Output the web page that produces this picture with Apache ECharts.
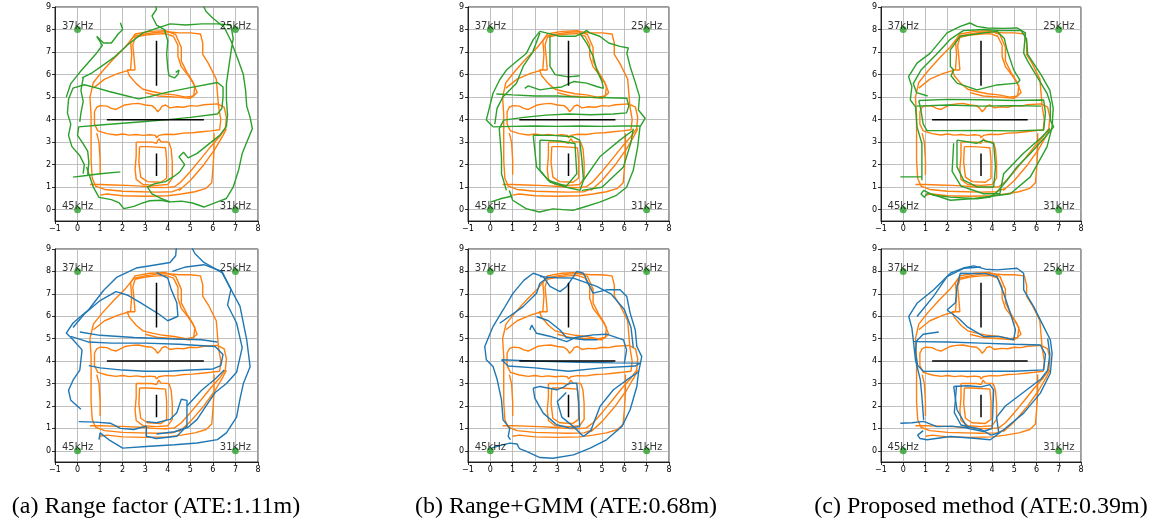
<!DOCTYPE html>
<html><head><meta charset="utf-8">
<script src="https://cdn.jsdelivr.net/npm/echarts@6/dist/echarts.min.js"></script>
<style>html,body{margin:0;padding:0;background:#fff}#c{width:1156px;height:522px}</style>
</head><body><div id="c"></div>
<script>
const xTicks = [-1,0,1,2,3,4,5,6,7,8];
const yTicks = [0,1,2,3,4,5,6,7,8,9];
const anchorPoints = [[0,8,'37kHz'],[7,8,'25kHz'],[0,0,'45kHz'],[7,0,'31kHz']];
const walls = [[[3.5,5.5],[3.5,7.5]], [[1.3,4],[5.6,4]], [[3.5,1.5],[3.5,2.5]]];
const captions = ['(a) Range factor (ATE:1.11m)','(b) Range+GMM (ATE:0.68m)','(c) Proposed method (ATE:0.39m)'];

// ground truth (orange), same in every panel
const groundTruth = [
 [[0.55,1.12],[1.0,1.12],[1.6,1.1],[2.2,1.08],[2.8,1.05],[3.4,1.0],[3.9,0.98],[4.3,1.02],[4.6,1.25],[5.0,1.7],[5.5,2.3],[5.9,2.8],[6.3,3.25],[6.55,3.6],[6.6,4.1],[6.5,4.55],[6.2,4.7],[5.6,4.66],[5.3,4.6],[5.0,4.62],[4.7,4.55],[4.4,4.57],[4.1,4.52],[3.9,4.65],[3.75,4.6],[3.65,4.45],[3.55,4.35],[3.45,4.5],[3.3,4.62],[3.0,4.65],[2.7,4.72],[2.4,4.7],[2.1,4.65],[1.9,4.55],[1.7,4.45],[1.5,4.5],[1.3,4.6],[1.0,4.62],[0.85,4.55],[0.75,4.35],[0.75,3.8],[0.9,3.5],[1.3,3.38],[1.7,3.32],[2.0,3.36],[2.3,3.31],[2.6,3.34],[2.9,3.3],[3.2,3.33],[3.45,3.3],[3.5,3.2],[3.6,3.3],[3.9,3.35],[4.3,3.34],[4.7,3.4],[5.1,3.42],[5.5,3.46],[5.9,3.5],[6.3,3.55],[6.35,4.0],[6.25,4.6],[6.2,5.2],[6.15,5.8],[5.8,6.5],[5.55,6.9],[5.55,7.4],[5.45,7.8],[5.0,7.85],[4.5,7.85],[4.0,7.9],[3.5,7.88],[3.0,7.8],[2.5,7.7],[2.1,7.2],[1.6,6.7],[1.1,6.15],[0.7,5.65],[0.55,5.0],[0.6,4.2],[0.6,3.2],[0.6,2.2],[0.65,1.4],[0.8,1.05],[1.2,0.9],[2.0,0.82],[2.8,0.8],[3.5,0.78],[4.2,0.8],[4.6,0.95]],
 [[2.55,6.2],[2.5,6.8],[2.45,7.3],[2.55,7.65],[3.0,7.75],[3.5,7.8],[3.9,7.82],[4.25,7.7],[4.45,7.3],[4.45,6.8],[4.6,6.35],[4.95,5.9],[5.2,5.5],[5.15,5.05],[4.8,5.0],[4.3,5.1],[3.8,5.15],[3.3,5.25],[2.9,5.35],[2.6,5.6],[2.3,5.95],[2.2,6.2],[2.55,6.2]],
 [[2.35,6.2],[2.4,6.9],[2.35,7.5],[2.55,7.8],[3.2,7.92],[3.9,7.95],[4.35,7.78],[4.6,7.2],[4.6,6.6],[4.85,6.1],[5.1,5.7],[5.3,5.2],[5.0,4.95],[4.4,5.0],[3.6,5.05],[3.0,5.2]],
 [[0.7,5.4],[1.2,5.8],[1.8,6.05],[2.3,6.2]],
 [[2.6,3.0],[2.6,2.4],[2.55,1.8],[2.6,1.35],[2.9,1.12],[3.5,1.08],[4.0,1.12],[4.2,1.4],[4.2,2.1],[4.15,2.7],[4.05,3.0],[3.7,3.02],[3.6,3.15],[3.5,2.95],[3.3,3.0],[2.9,3.0],[2.6,3.0]],
 [[2.75,2.8],[2.72,2.1],[2.8,1.45],[3.1,1.25],[3.7,1.22],[3.95,1.4],[3.95,2.2],[3.9,2.75],[3.5,2.78],[3.1,2.8],[2.75,2.8]],
 [[6.05,3.4],[6.05,2.6],[6.0,1.8],[5.95,1.2],[5.7,0.95],[5.2,0.8],[4.6,0.7],[4.0,0.62],[3.0,0.6],[2.0,0.62],[1.3,0.7],[1.0,0.65]],
 [[1.0,1.55],[1.0,2.2],[0.95,3.0],[0.85,3.4]],
 [[4.5,0.85],[5.0,1.3],[5.6,2.0],[6.1,2.7],[6.45,3.3],[6.6,3.6]]
];

// (a) range factor, top (green) and bottom (blue)
const rangeTop = [
 [[-0.2,1.45],[0.4,1.52],[1.0,1.6],[1.9,1.68]],
 [[0.45,1.55],[0.5,2.1],[0.45,2.6],[0.2,3.0],[0.0,3.3],[0.05,3.68],[1.0,3.76],[2.0,3.84],[3.0,3.92],[4.0,4.0],[5.0,4.1],[6.2,4.25],[6.4,4.5],[6.45,5.0],[6.45,5.45],[6.2,5.65],[5.0,5.42],[4.0,5.22],[3.2,5.02],[2.7,4.92],[2.2,5.05],[1.4,5.25],[0.8,5.42],[0.3,5.55],[-0.2,5.4],[-0.4,4.9],[-0.45,4.3],[-0.3,3.8],[-0.4,3.3],[-0.25,2.8],[0.1,2.4],[0.3,2.0],[0.25,1.6]],
 [[0.2,5.85],[0.6,6.05],[1.1,6.4],[1.6,6.75],[2.2,7.3],[2.9,7.85],[3.5,8.05],[4.1,8.25],[4.8,8.2],[5.5,8.25],[6.2,8.25],[6.8,8.2],[6.9,7.6],[6.8,7.0],[6.7,6.3],[6.6,5.6],[6.6,4.9],[6.65,4.2],[6.6,3.7],[6.3,3.3],[5.8,2.9],[5.3,2.5],[4.9,2.3],[4.7,2.55],[4.5,2.35],[4.75,2.0],[4.55,1.7],[4.3,1.5],[3.9,1.25],[3.4,1.15],[3.1,1.0],[3.3,0.7],[3.7,0.5],[4.1,0.35],[4.6,0.38],[5.1,0.3],[5.6,0.12],[6.2,0.35],[6.6,0.5],[6.9,1.0],[7.15,1.8],[7.3,2.5],[7.5,3.0],[7.75,3.6],[7.65,4.1],[7.5,4.6],[7.45,5.3],[7.35,6.0],[7.1,6.7],[6.8,7.5],[6.5,8.1],[6.0,8.5],[5.7,8.8],[5.5,9.2]],
 [[1.9,8.3],[2.0,8.0],[1.8,7.8],[1.5,7.4],[1.15,7.4],[0.85,7.7],[1.1,7.3],[0.8,6.9],[0.45,6.5],[0.1,6.1],[-0.3,5.6],[-0.5,5.0]],
 [[3.4,9.3],[3.5,8.9],[3.3,8.6],[3.5,8.2],[3.85,8.0],[4.0,7.5],[3.95,6.9],[4.0,6.3],[4.05,5.95],[4.3,5.85],[4.45,6.0],[4.5,6.2],[4.35,6.1]],
 [[0.4,1.9],[0.7,1.0],[0.95,0.55],[1.5,0.45],[1.85,0.3],[2.05,0.05],[2.5,0.15],[2.8,0.27],[3.2,0.4],[3.7,0.42],[4.1,0.34]],
 [[0.25,5.85],[0.15,5.3],[0.25,4.8],[0.15,4.3],[0.1,3.9]]
];
const rangeBottom = [
 [[0.15,1.85],[-0.3,2.25],[-0.4,2.7],[-0.2,3.15],[0.1,3.6],[0.2,4.5],[-0.2,4.95],[-0.5,5.25],[-0.2,5.7],[0.5,6.3],[1.15,7.15],[1.75,7.75],[2.6,8.15],[3.5,8.3],[4.1,8.4],[4.35,8.7],[4.4,9.3]],
 [[4.95,9.3],[5.2,8.8],[5.6,8.4],[6.4,7.95],[7.2,6.45],[7.5,4.95],[7.65,3.75],[7.35,3.0],[7.2,2.3],[7.05,1.5],[6.6,0.8],[6.2,0.5],[5.3,0.35],[4.3,0.27],[3.2,0.2],[2.0,0.12],[1.45,0.45],[1.0,0.8],[0.95,0.5]],
 [[4.2,8.0],[4.8,8.2],[5.6,8.3],[6.4,8.0],[6.8,7.2],[6.65,6.5],[7.05,5.7],[7.3,4.6],[7.05,3.5],[6.6,3.0],[6.1,2.6],[5.7,2.0],[5.3,1.4],[4.9,1.05],[4.3,0.85],[3.5,0.75]],
 [[3.5,7.95],[4.0,7.7],[4.15,7.2],[4.4,6.6],[4.45,6.0],[4.0,5.8],[3.6,6.1],[2.8,6.6],[2.2,6.95],[1.7,7.1],[1.0,6.7],[0.3,6.1],[-0.2,5.5]],
 [[-0.3,5.1],[0.5,4.85],[1.5,4.8],[3.0,4.8],[4.5,4.75],[6.1,4.65],[6.45,4.3],[6.35,3.8],[6.0,3.65],[5.0,3.6],[4.0,3.55],[3.0,3.55],[2.0,3.6],[1.0,3.7],[0.5,3.8]],
 [[0.1,5.3],[1.0,5.15],[2.5,5.05],[4.0,5.0],[5.5,4.95],[6.2,4.85]],
 [[0.05,1.3],[0.8,1.28],[1.45,1.23],[1.9,1.0],[2.5,0.95],[3.05,1.1],[3.05,0.65],[3.5,0.55],[4.4,0.65],[4.85,1.1],[4.85,2.25],[4.6,2.3],[4.4,1.7],[4.1,1.4],[3.5,1.25],[3.05,1.3]],
 [[4.85,2.0],[5.5,2.7],[6.1,3.2],[6.5,3.6]]
];

// (b) range + GMM
const gmmTop = [
 [[0,0.34],[0.5,0.5],[0.95,0.6],[0.85,0.85],[1.0,0.42],[1.6,0.05],[2.2,-0.1],[2.8,0.04],[3.7,-0.03],[4.2,0.12],[4.9,0.34],[5.65,0.64],[6.1,1.0],[6.4,1.75],[6.6,2.8],[6.7,3.68],[6.93,4.06],[6.63,4.43],[6.68,5.02],[6.5,5.62],[6.26,6.36],[6.11,6.95],[6.18,7.18],[5.8,7.25],[5.3,7.4],[4.9,7.7],[4.45,7.85],[4.3,7.96],[4.17,7.85],[3.8,7.7],[3.1,7.7],[2.5,7.85],[2.22,7.92],[1.92,7.55],[1.62,6.95],[1.17,6.58],[0.72,6.2],[0.42,5.77],[0.12,5.17],[-0.03,4.58],[-0.18,3.98],[0.12,3.68]],
 [[0.12,3.68],[1.0,3.7],[2.0,3.72],[3.0,3.7],[4.0,3.72],[5.0,3.7],[6.0,3.72],[6.7,3.72]],
 [[0.27,5.14],[1.0,5.1],[2.0,5.05],[3.0,5.05],[4.0,5.0],[5.0,4.98],[6.11,4.95],[6.2,4.6],[6.1,4.3],[5.5,4.25],[4.5,4.22],[3.5,4.25],[2.5,4.2],[1.5,4.1],[0.6,3.98],[0.4,3.6],[0.45,3.0],[0.5,2.3],[0.5,1.6],[0.72,0.86]],
 [[1.92,3.31],[2.07,1.9],[2.67,1.23],[3.42,1.0],[4.02,0.86],[4.17,1.31],[4.1,2.2],[4.0,3.09],[3.7,3.24],[2.8,3.3],[1.92,3.31]],
 [[2.22,3.09],[2.22,1.75],[2.6,1.3],[3.4,1.05],[3.87,1.6],[3.79,2.94],[3.1,3.05],[2.22,3.09]],
 [[4.17,1.31],[4.9,2.35],[5.8,3.09],[6.41,3.54]],
 [[4.1,0.86],[5.0,1.0],[5.96,1.9],[6.3,3.0],[6.4,3.6]],
 [[1.54,5.39],[1.7,5.5],[2.22,5.32],[2.67,5.39],[3.2,5.45],[3.72,5.69],[4.31,5.62],[4.76,5.47],[5.06,5.39],[5.0,5.7],[4.76,6.21],[4.61,6.8],[4.31,7.4],[4.0,7.85]],
 [[2.67,7.7],[2.67,6.36],[2.9,6.0],[3.5,5.9],[4.0,5.95]],
 [[2.22,7.85],[1.9,7.0],[1.47,6.36],[1.17,5.62],[0.57,5.02],[0.3,4.5],[0.2,3.8]]
];
const gmmBottom = [
 [[0.05,0.12],[0.5,0.25],[0.87,0.34],[1.2,0.3],[1.3,0.1],[1.62,-0.03],[2.22,-0.3],[2.8,-0.33],[3.72,-0.18],[4.47,0.12],[5.2,0.49],[5.89,1.08],[6.26,1.83],[6.56,2.87],[6.63,3.46],[6.78,4.2],[6.56,4.65],[6.49,5.39],[6.26,6.14],[6.11,6.88],[5.81,7.18],[5.2,7.18],[4.6,7.03],[4.17,7.92],[3.87,8.0],[3.72,7.77],[3.42,7.33],[3.12,7.1],[2.67,7.33],[2.37,7.77],[1.92,7.92],[1.5,7.6],[1.02,7.03],[0.57,6.28],[0.12,5.54],[-0.25,4.65],[-0.18,4.06],[0.12,3.76],[0.3,3.2],[0.5,2.27],[0.57,1.38],[0.87,1.01],[0.8,0.64],[0.9,0.5]],
 [[2.22,7.77],[3.0,7.72],[3.72,7.7],[4.76,7.33],[5.4,7.0],[6.0,6.3],[6.3,5.5],[6.4,4.6]],
 [[1.77,5.39],[1.85,5.6],[2.07,5.24],[2.7,5.1],[3.42,4.87],[3.8,5.05],[4.61,5.17],[5.2,5.2],[5.96,4.95],[6.1,4.5],[6.0,3.9]],
 [[0.42,5.69],[1.47,6.43],[2.07,7.03],[2.22,7.47],[2.6,7.75]],
 [[2.07,5.99],[2.6,5.8],[3.12,5.39],[3.4,5.05],[4.2,4.95],[4.8,4.95]],
 [[0.5,4.06],[2.0,4.0],[4.0,3.95],[5.5,3.92],[6.7,3.91],[6.5,3.78],[5.0,3.7],[3.5,3.55],[2.0,3.7],[0.8,3.78],[0.5,4.06]],
 [[1.92,2.79],[1.99,2.35],[2.37,1.68],[2.97,1.16],[3.56,1.01],[4.0,1.08],[3.95,2.2],[3.87,3.02],[3.5,3.0],[3.3,2.85],[2.97,2.72],[2.22,2.87],[1.92,2.79]],
 [[3.4,2.6],[3.0,2.2],[3.2,1.5],[3.72,1.08],[4.17,0.64],[4.5,0.9],[4.91,1.98],[5.51,2.72],[6.11,3.16],[6.6,3.5]]
];

// (c) proposed method
const propTop = [
 [[-0.13,1.46],[0.4,1.46],[0.84,1.46],[0.84,1.31],[0.84,2.2],[0.84,2.94],[0.62,3.68],[0.55,4.58],[0.32,4.87],[0.39,5.47],[0.24,5.91],[0.62,6.51],[1.22,6.95],[1.97,7.85],[2.57,8.14],[3.0,8.29],[3.32,8.14],[3.77,8.07],[4.5,8.05],[5.12,8.07],[5.5,7.85],[5.42,6.95],[5.6,6.6],[6.02,5.91],[6.47,5.17],[6.62,4.73],[6.62,3.98],[6.77,3.68],[6.4,3.24],[5.72,2.5],[5.12,1.9],[4.67,1.31],[4.22,0.79],[3.92,0.56],[3.32,0.49],[2.12,0.56],[1.37,0.64],[0.92,0.86],[0.8,0.7],[0.95,0.55],[1.1,0.75]],
 [[0.7,4.85],[2.0,4.9],[3.5,4.88],[5.0,4.85],[6.32,4.87],[6.4,4.3],[6.32,3.54],[5.0,3.5],[3.5,3.52],[2.0,3.51],[1.07,3.51],[0.9,3.8],[0.8,4.4],[0.7,4.85]],
 [[0.6,4.6],[2.0,4.65],[3.5,4.6],[5.0,4.62],[6.2,4.6]],
 [[2.27,6.21],[2.15,5.95],[2.42,5.62],[3.32,5.32],[4.22,5.54],[5.12,5.62],[5.25,5.75],[4.97,6.21],[4.67,7.1],[4.55,7.6],[4.22,7.92],[3.62,7.85],[2.57,7.7],[2.12,7.1],[2.12,6.36],[2.27,6.21]],
 [[2.42,3.09],[2.42,1.9],[2.72,1.31],[3.32,1.01],[4.07,1.01],[4.15,1.9],[4.07,2.94],[3.62,3.09],[3.3,2.95],[2.42,3.09]],
 [[2.27,2.95],[2.2,1.7],[2.6,1.05],[3.62,0.71],[4.35,0.71],[4.52,1.6],[5.4,2.5],[6.2,3.2],[6.6,3.6]],
 [[1.1,0.75],[2.12,0.42],[3.2,0.5],[4.82,0.71],[5.72,1.46],[6.47,2.79],[6.7,3.68],[6.75,4.5],[6.6,5.3],[6.2,6.0],[5.6,6.9],[5.55,7.6],[5.3,7.95],[4.4,7.95],[3.6,8.0],[2.7,7.95],[2.1,7.55],[1.5,6.9],[0.8,6.2],[0.45,5.6],[0.6,5.2],[1.1,5.05]]
];
const propBottom = [
 [[-0.13,1.23],[0.4,1.25],[0.92,1.31],[1.2,1.2],[1.52,1.08],[2.2,1.1],[3.0,1.0]],
 [[0.9,0.9],[0.65,0.7],[0.75,0.55],[1.07,0.49],[2.12,0.64],[3.17,0.56],[3.92,0.49],[4.52,0.94],[5.42,1.68],[6.17,2.57],[6.62,3.46],[6.7,4.35],[6.62,4.95],[6.32,5.54],[5.87,6.43],[5.42,7.18],[5.42,7.92],[5.12,8.14],[4.22,8.07],[3.7,8.1],[3.17,8.25],[2.7,8.15],[2.12,7.92],[1.37,7.18],[0.62,6.58],[0.25,5.99],[0.39,5.47],[0.47,4.8],[0.55,4.06],[0.77,3.16],[0.84,2.42],[0.92,1.38]],
 [[0.47,4.87],[2.0,4.85],[3.5,4.8],[5.0,4.75],[6.17,4.72],[6.4,4.3],[6.32,3.61],[5.0,3.55],[3.5,3.55],[2.0,3.55],[0.92,3.54],[0.65,3.8],[0.55,4.4],[0.6,4.9],[0.9,5.2],[1.6,5.3]],
 [[1.97,6.28],[2.5,5.9],[2.87,5.54],[3.62,5.1],[4.3,5.1],[4.97,4.95],[5.05,5.4],[4.82,6.14],[4.52,7.03],[4.22,7.77],[3.7,7.9],[2.57,7.92],[2.42,7.33],[2.35,6.6],[1.97,6.28]],
 [[2.27,2.87],[2.42,1.83],[2.9,1.0],[3.62,0.86],[4.0,1.0],[4.07,2.72],[3.9,2.95],[3.5,2.85],[2.9,2.9],[2.27,2.87]],
 [[2.4,2.9],[2.3,1.7],[2.6,1.15],[3.5,0.95],[3.95,0.7],[4.3,0.8],[4.2,1.5],[4.6,2.0],[5.4,2.6],[6.2,3.2],[6.5,3.6],[6.6,4.3],[6.5,5.0]],
 [[0.62,5.99],[1.37,6.9],[1.97,7.77],[2.72,8.14],[3.5,8.2]]
];

const panels = [
  {est: rangeTop, color: '#2ca02c', left: 55, top: 7, width: 203, height: 214},
  {est: gmmTop, color: '#2ca02c', left: 468, top: 7, width: 201, height: 214},
  {est: propTop, color: '#2ca02c', left: 881, top: 7, width: 200, height: 214},
  {est: rangeBottom, color: '#1f77b4', left: 55, top: 249, width: 203, height: 213},
  {est: gmmBottom, color: '#1f77b4', left: 468, top: 249, width: 201, height: 213},
  {est: propBottom, color: '#1f77b4', left: 881, top: 249, width: 200, height: 213}
];
const captionX = [156, 566, 981];

const tickFont = {fontFamily: 'DejaVu Sans', fontSize: 8, color: '#000'};
const grids = [], xAxes = [], yAxes = [], series = [];
panels.forEach((p, i) => {
  grids.push({left: p.left, top: p.top, width: p.width, height: p.height, show: true, borderColor: '#000', borderWidth: 0.8, backgroundColor: 'transparent'});
  xAxes.push({gridIndex: i, type: 'value', min: -1, max: 8, interval: 1,
    axisLine: {show: true, onZero: false, lineStyle: {color: '#000', width: 0.8}},
    axisTick: {show: true, length: 3, lineStyle: {color: '#000', width: 0.8}},
    axisLabel: Object.assign({margin: 4, formatter: v => (v < 0 ? '\u2212' + (-v) : String(v))}, tickFont),
    splitLine: {show: true, lineStyle: {color: '#b0b0b0', width: 0.8}}});
  yAxes.push({gridIndex: i, type: 'value', min: -0.5, max: 9,
    axisLine: {show: true, onZero: false, lineStyle: {color: '#000', width: 0.8}},
    axisTick: {show: true, length: 3, customValues: yTicks, lineStyle: {color: '#000', width: 0.8}},
    axisLabel: Object.assign({margin: 4, customValues: yTicks}, tickFont),
    splitLine: {show: true, lineStyle: {color: '#b0b0b0', width: 0.8}}});
  groundTruth.forEach(seg => series.push({type: 'line', xAxisIndex: i, yAxisIndex: i, data: seg, showSymbol: false, symbol: 'none', clip: true, silent: true, z: 2, lineStyle: {color: '#ff7f0e', width: 1.4}}));
  p.est.forEach(seg => series.push({type: 'line', xAxisIndex: i, yAxisIndex: i, data: seg, showSymbol: false, symbol: 'none', clip: true, silent: true, z: 3, lineStyle: {color: p.color, width: 1.4}}));
  walls.forEach(seg => series.push({type: 'line', xAxisIndex: i, yAxisIndex: i, data: seg, showSymbol: false, symbol: 'none', silent: true, z: 4, lineStyle: {color: '#000', width: 1.5}}));
  series.push({type: 'scatter', xAxisIndex: i, yAxisIndex: i, data: anchorPoints, symbolSize: 7, silent: true, z: 5,
    itemStyle: {color: '#2ca02c'},
    label: {show: true, position: 'top', distance: -5, formatter: q => q.data[2], fontFamily: 'DejaVu Sans', fontSize: 10, color: '#000'}});
});

const chart = echarts.init(document.getElementById('c'), null, {renderer: 'canvas'});
chart.setOption({
  animation: false,
  backgroundColor: '#fff',
  grid: grids, xAxis: xAxes, yAxis: yAxes, series: series,
  graphic: captions.map((t, i) => ({type: 'text', x: captionX[i], y: 507,
    style: {text: t, textAlign: 'center', textVerticalAlign: 'middle', font: '24px "Liberation Serif"', fill: '#000'}}))
});
</script></body></html>
